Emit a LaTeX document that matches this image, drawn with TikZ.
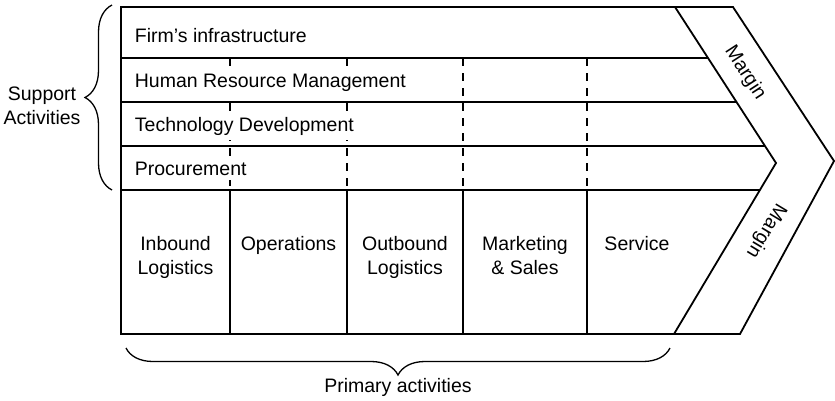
\documentclass[tikz,border=0pt]{standalone}
\usepackage{fontspec}
\setmainfont{Liberation Sans}
\usetikzlibrary{decorations.pathreplacing}

\begin{document}
\begin{tikzpicture}[x=1pt, y=-1pt, line width=1.8pt, font=\fontsize{19.5}{24}\selectfont,
	support/.style={fill=white, inner xsep=0pt, inner ysep=5pt, anchor=base west},
	primary/.style={inner sep=0pt, align=center, anchor=base},
	margintext/.style={inner sep=0pt},
	dashline/.style={dash pattern=on 8pt off 7pt},
	brace/.style={decorate, decoration={brace, amplitude=27pt}, line width=1.3pt}]
%	\draw[help lines] (0,0) grid (835,400);
	\useasboundingbox (0,0) rectangle (835,400);
	\coordinate (nw) at (121,7);
	\coordinate (sw) at (121,334);
	\coordinate (itop) at (675,7);
	\coordinate (itip) at (776,163);
	\coordinate (ibot) at (674,334);
	\coordinate (otop) at (733,7);
	\coordinate (otip) at (834,161);
	\coordinate (obot) at (740,334);
	\draw (nw) -- (otop) -- (otip) -- (obot) -- (sw) -- cycle;
	\draw (itop) -- (itip) -- (ibot);
	\begin{scope}
		\clip (nw) -- (itop) -- (itip) -- (ibot) -- (sw) -- cycle;
		\foreach \y in {58,102,146,190}
			\draw (100,\y) -- (800,\y);
	\end{scope}
	\foreach \x in {230,347,463,587} {
		\draw[dashline] (\x,58) -- (\x,190);
		\draw (\x,190) -- (\x,334);
	}
	\node[support] (infra) at (134,42) {Firm’s infrastructure};
	\node[support] (hrm) at (134,87) {Human Resource Management};
	\node[support] (tech) at (134,131) {Technology Development};
	\node[support] (proc) at (134,175) {Procurement};
	\node[primary] (inbound) at (175.5,274) {Inbound\\Logistics};
	\node[primary] (ops) at (288.5,250) {Operations};
	\node[primary] (outbound) at (405,274) {Outbound\\Logistics};
	\node[primary] (marketing) at (525,274) {Marketing\\\& Sales};
	\node[primary] (service) at (637,250) {Service};
	\node[margintext, rotate=-57] (margin-top) at (745,73) {Margin};
	\node[margintext, rotate=-121] (margin-bot) at (766,231) {Margin};
	\coordinate (lb-bot) at (112,190);
	\coordinate (lb-top) at (112,5);
	\draw[brace] (lb-bot) -- (lb-top);
	\node[primary] (support label) at (42,124) {Support\\Activities};
	\coordinate (bb-right) at (670,348);
	\coordinate (bb-left) at (126,348);
	\draw[brace] (bb-right) -- (bb-left);
	\node[primary] (primary label) at (398,392) {Primary activities};
\end{tikzpicture}
\end{document}
